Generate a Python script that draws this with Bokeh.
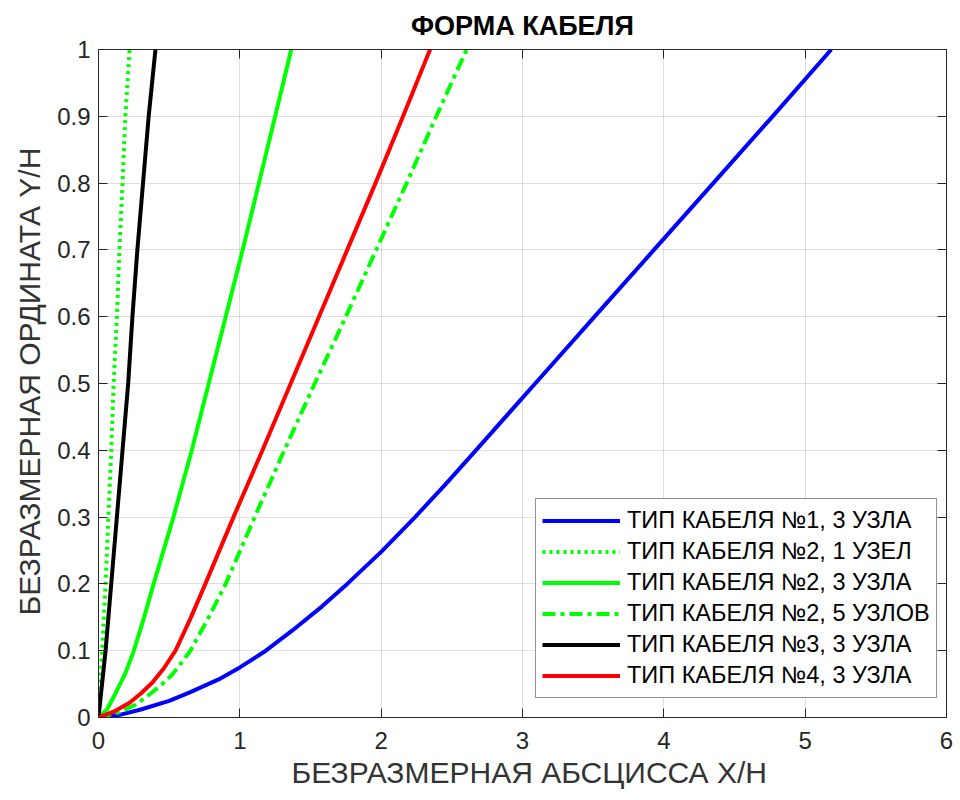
from bokeh.plotting import figure
from bokeh.models import Range1d, FixedTicker, LinearAxis, Legend, LegendItem, Title
from bokeh.embed import file_html
from bokeh.resources import INLINE

title_text = "ФОРМА КАБЕЛЯ"
x_label = "БЕЗРАЗМЕРНАЯ АБСЦИССА Х/Н"
y_label = "БЕЗРАЗМЕРНАЯ ОРДИНАТА Y/H"

x_ticks = [0, 1, 2, 3, 4, 5, 6]
x_tick_labels = ["0", "1", "2", "3", "4", "5", "6"]
y_ticks = [0, 0.1, 0.2, 0.3, 0.4, 0.5, 0.6, 0.7, 0.8, 0.9, 1]
y_tick_labels = ["0", "0.1", "0.2", "0.3", "0.4", "0.5", "0.6", "0.7", "0.8", "0.9", "1"]

# cable type 1, 3 nodes (blue)
x_t1_n3 = [0, 0.15, 0.3, 0.5, 0.65, 0.85, 1.0, 1.17, 1.4, 1.58, 1.76, 2.0, 2.24, 2.45, 2.67, 3.09, 3.51, 3.93, 4.35, 4.77, 5.185]
y_t1_n3 = [0, 0.004, 0.012, 0.025, 0.038, 0.057, 0.075, 0.098, 0.135, 0.166, 0.2, 0.248, 0.3, 0.348, 0.4, 0.5, 0.6, 0.7, 0.8, 0.9, 1.0]
# cable type 2, 1 node (green dotted)
x_t2_n1 = [0, 0.026, 0.05, 0.07, 0.09, 0.107, 0.13, 0.148, 0.17, 0.19, 0.22]
y_t2_n1 = [0, 0.1, 0.2, 0.3, 0.4, 0.5, 0.6, 0.7, 0.8, 0.9, 1.0]
# cable type 2, 3 nodes (green solid)
x_t2_n3 = [0, 0.06, 0.12, 0.19, 0.25, 0.32, 0.39, 0.53, 0.66, 0.78, 0.9, 1.02, 1.135, 1.25, 1.364]
y_t2_n3 = [0, 0.012, 0.036, 0.066, 0.1, 0.148, 0.2, 0.3, 0.4, 0.5, 0.6, 0.7, 0.8, 0.9, 1.0]
# cable type 2, 5 nodes (green dash-dot)
x_t2_n5 = [0, 0.15, 0.26, 0.37, 0.45, 0.52, 0.58, 0.65, 0.77, 0.9, 1.105, 1.315, 1.53, 1.75, 1.965, 2.18, 2.39, 2.605]
y_t2_n5 = [0, 0.008, 0.019, 0.036, 0.05, 0.064, 0.08, 0.1, 0.146, 0.2, 0.3, 0.4, 0.5, 0.6, 0.7, 0.8, 0.9, 1.0]
# cable type 3, 3 nodes (black)
x_t3_n3 = [0, 0.05, 0.09, 0.13, 0.17, 0.21, 0.24, 0.275, 0.315, 0.355, 0.403]
y_t3_n3 = [0, 0.1, 0.2, 0.3, 0.4, 0.5, 0.6, 0.7, 0.8, 0.9, 1.0]
# cable type 4, 3 nodes (red)
x_t4_n3 = [0, 0.12, 0.22, 0.3, 0.38, 0.46, 0.545, 0.65, 0.75, 0.955, 1.16, 1.36, 1.56, 1.76, 1.96, 2.155, 2.346]
y_t4_n3 = [0, 0.01, 0.022, 0.036, 0.052, 0.073, 0.1, 0.148, 0.197, 0.3, 0.4, 0.5, 0.6, 0.7, 0.8, 0.9, 1.0]

series_labels = [
    "ТИП КАБЕЛЯ №1, 3 УЗЛА",
    "ТИП КАБЕЛЯ №2, 1 УЗЕЛ",
    "ТИП КАБЕЛЯ №2, 3 УЗЛА",
    "ТИП КАБЕЛЯ №2, 5 УЗЛОВ",
    "ТИП КАБЕЛЯ №3, 3 УЗЛА",
    "ТИП КАБЕЛЯ №4, 3 УЗЛА",
]

FONT = "Liberation Sans"
AX = "#262626"

p = figure(width=960, height=800, output_backend="svg", toolbar_location=None,
           x_range=Range1d(0, 6), y_range=Range1d(0, 1),
           min_border_left=98, min_border_right=14, min_border_top=47, min_border_bottom=83)
p.background_fill_color = "white"
p.border_fill_color = "white"
p.outline_line_color = None

p.title.text = title_text
p.title.align = "center"
p.title.text_font = FONT
p.title.text_font_size = "27px"
p.title.text_font_style = "bold"
p.title.text_color = "black"
p.title.standoff = 17

xt = FixedTicker(ticks=x_ticks, minor_ticks=[])
yt = FixedTicker(ticks=y_ticks, minor_ticks=[])

for ax in (p.xaxis[0], p.yaxis[0]):
    ax.axis_line_color = AX
    ax.major_tick_line_color = AX
    ax.major_tick_in = 9
    ax.major_tick_out = 0
    ax.minor_tick_in = 0
    ax.minor_tick_out = 0
    ax.major_label_text_font = FONT
    ax.major_label_text_font_size = "24px"
    ax.major_label_text_color = AX

p.xaxis[0].ticker = xt
p.yaxis[0].ticker = yt
p.xaxis[0].major_label_overrides = dict(zip(x_ticks, x_tick_labels))
p.yaxis[0].major_label_overrides = dict(zip(y_ticks, y_tick_labels))
p.xaxis[0].major_label_standoff = 14
p.yaxis[0].major_label_standoff = 8

xlab = Title(text=x_label, align="left", offset=193, standoff=5,
             text_font=FONT, text_font_size="30px", text_font_style="normal",
             text_color="#333333")
ylab = Title(text=y_label, align="left", offset=102, standoff=17,
             text_font=FONT, text_font_size="30px", text_font_style="normal",
             text_color="#333333")
p.add_layout(xlab, "below")
p.add_layout(ylab, "left")

top = LinearAxis(ticker=FixedTicker(ticks=x_ticks, minor_ticks=[]))
right = LinearAxis(ticker=FixedTicker(ticks=y_ticks, minor_ticks=[]))
top.major_label_overrides = {t: "" for t in x_ticks}
right.major_label_overrides = {t: "" for t in y_ticks}
for ax in (top, right):
    ax.axis_line_color = AX
    ax.major_tick_line_color = AX
    ax.major_tick_in = 9
    ax.major_tick_out = 0
    ax.minor_tick_in = 0
    ax.minor_tick_out = 0
    ax.major_label_text_font_size = "10px"
    ax.major_label_standoff = 0
p.add_layout(top, "above")
p.add_layout(right, "right")

p.xgrid.ticker = xt
p.ygrid.ticker = yt
for g in (p.xgrid[0], p.ygrid[0]):
    g.grid_line_color = AX
    g.grid_line_alpha = 0.15
    g.grid_line_width = 1

r1 = p.line(x_t1_n3, y_t1_n3, line_color="#0000ff", line_width=4, line_join="round")
r2 = p.line(x_t2_n1, y_t2_n1, line_color="#00ff00", line_width=4, line_dash="3 4")
r3 = p.line(x_t2_n3, y_t2_n3, line_color="#00ff00", line_width=4, line_join="round")
r4 = p.line(x_t2_n5, y_t2_n5, line_color="#00ff00", line_width=4, line_dash="13 5 4 5")
r5 = p.line(x_t3_n3, y_t3_n3, line_color="black", line_width=4, line_join="round")
r6 = p.line(x_t4_n3, y_t4_n3, line_color="#ff0000", line_width=4, line_join="round")

legend = Legend(items=[LegendItem(label=l, renderers=[r]) for l, r in
                       zip(series_labels, [r1, r2, r3, r4, r5, r6])],
                location=(437, 19))
legend.label_text_font = FONT
legend.label_text_font_size = "23.5px"
legend.label_text_color = "black"
legend.glyph_width = 78
legend.glyph_height = 31
legend.label_height = 31
legend.label_standoff = 7
legend.spacing = 0
legend.padding = 6
legend.margin = 0
legend.border_line_color = AX
legend.border_line_width = 1
legend.background_fill_color = "white"
legend.background_fill_alpha = 1
p.add_layout(legend, "center")

open("out.html", "w").write(file_html(p, INLINE))
